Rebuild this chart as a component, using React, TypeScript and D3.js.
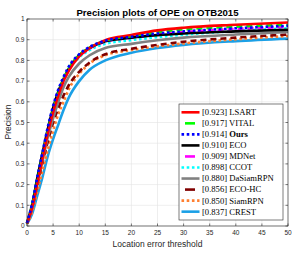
import React, { useEffect, useRef } from 'react';
import * as d3 from 'd3';

// thresholds where curve values were read
const thresholds = [0, 1, 2, 3, 4, 5, 6, 7, 8, 10, 12, 15, 20, 25, 30, 40, 50];

const lsart = [0.012, 0.09, 0.21, 0.33, 0.45, 0.55, 0.63, 0.70, 0.75, 0.82, 0.86, 0.898, 0.923, 0.945, 0.958, 0.972, 0.983];
const vital = [0.012, 0.10, 0.22, 0.34, 0.46, 0.56, 0.64, 0.71, 0.76, 0.825, 0.862, 0.895, 0.917, 0.937, 0.95, 0.963, 0.972];
const ours = [0.015, 0.11, 0.24, 0.36, 0.48, 0.58, 0.66, 0.72, 0.77, 0.83, 0.865, 0.895, 0.914, 0.93, 0.94, 0.955, 0.967];
const eco = [0.015, 0.105, 0.235, 0.355, 0.47, 0.57, 0.65, 0.71, 0.76, 0.825, 0.86, 0.892, 0.910, 0.922, 0.93, 0.94, 0.948];
const mdnet = [0.012, 0.095, 0.22, 0.34, 0.455, 0.555, 0.635, 0.70, 0.755, 0.82, 0.857, 0.89, 0.909, 0.925, 0.937, 0.952, 0.962];
const ccot = [0.015, 0.105, 0.23, 0.35, 0.465, 0.565, 0.645, 0.705, 0.755, 0.815, 0.85, 0.88, 0.898, 0.912, 0.924, 0.942, 0.955];
const dasiam = [0.012, 0.09, 0.21, 0.32, 0.43, 0.52, 0.60, 0.67, 0.72, 0.785, 0.825, 0.86, 0.880, 0.897, 0.91, 0.925, 0.937];
const ecohc = [0.012, 0.09, 0.20, 0.31, 0.41, 0.50, 0.57, 0.63, 0.68, 0.745, 0.79, 0.83, 0.856, 0.875, 0.89, 0.91, 0.925];
const siamrpn = [0.01, 0.07, 0.17, 0.27, 0.37, 0.46, 0.54, 0.60, 0.66, 0.735, 0.785, 0.825, 0.850, 0.868, 0.882, 0.902, 0.918];
const crest = [0.01, 0.06, 0.15, 0.24, 0.34, 0.42, 0.49, 0.56, 0.62, 0.70, 0.755, 0.80, 0.837, 0.86, 0.875, 0.893, 0.905];

const names = ['LSART', 'VITAL', 'Ours', 'ECO', 'MDNet', 'CCOT', 'DaSiamRPN', 'ECO-HC', 'SiamRPN', 'CREST'];
const scores = ['0.923', '0.917', '0.914', '0.910', '0.909', '0.898', '0.880', '0.856', '0.850', '0.837'];
const values = [lsart, vital, ours, eco, mdnet, ccot, dasiam, ecohc, siamrpn, crest];
const colors = ['#ff0000', '#00ff00', '#0000ff', '#000000', '#ff00ff', '#00ffff', '#808080', '#800000', '#ff7f30', '#1ba0e6'];
const dashes = ['', '6 4', '2.6 2.6', '', '6 4', '2.6 2.6', '', '6 4', '2.6 2.6', ''];

const xTicks = d3.range(0, 51, 5);
const yTicks = d3.range(0, 1.01, 0.1);

const App = () => {
    const svgRef = useRef<SVGSVGElement>(null);

    useEffect(() => {
        const svg = d3.select(svgRef.current);
        svg.selectAll('*').remove();

        const x = d3.scaleLinear().domain([0, 50]).range([27, 288]);
        const y = d3.scaleLinear().domain([0, 1]).range([226, 19]);

        const g = svg.append('g');

        // grid
        g.selectAll('.vg').data(xTicks).join('line')
            .attr('x1', d => x(d)).attr('x2', d => x(d))
            .attr('y1', y(0)).attr('y2', y(1))
            .attr('stroke', '#e3e3e3').attr('stroke-width', 0.6);
        g.selectAll('.hg').data(yTicks).join('line')
            .attr('y1', d => y(d)).attr('y2', d => y(d))
            .attr('x1', x(0)).attr('x2', x(50))
            .attr('stroke', '#e3e3e3').attr('stroke-width', 0.6);

        // curves
        const line = d3.line<number>()
            .x((_, i) => x(thresholds[i]))
            .y(d => y(d))
            .curve(d3.curveMonotoneX);

        const order = [9, 8, 7, 6, 5, 4, 3, 1, 0, 2];
        order.forEach(k => {
            g.append('path')
                .attr('d', line(values[k]))
                .attr('fill', 'none')
                .attr('stroke', colors[k])
                .attr('stroke-width', 2.6)
                .attr('stroke-dasharray', dashes[k] || null);
        });

        // axes box and ticks
        g.append('rect')
            .attr('x', x(0)).attr('y', y(1))
            .attr('width', x(50) - x(0)).attr('height', y(0) - y(1))
            .attr('fill', 'none').attr('stroke', '#262626').attr('stroke-width', 0.6);
        g.selectAll('.xt').data(xTicks).join('line')
            .attr('x1', d => x(d)).attr('x2', d => x(d))
            .attr('y1', y(0)).attr('y2', y(0) - 2.5)
            .attr('stroke', '#262626').attr('stroke-width', 0.6);
        g.selectAll('.xt2').data(xTicks).join('line')
            .attr('x1', d => x(d)).attr('x2', d => x(d))
            .attr('y1', y(1)).attr('y2', y(1) + 2.5)
            .attr('stroke', '#262626').attr('stroke-width', 0.6);
        g.selectAll('.yt').data(yTicks).join('line')
            .attr('y1', d => y(d)).attr('y2', d => y(d))
            .attr('x1', x(0)).attr('x2', x(0) + 2.5)
            .attr('stroke', '#262626').attr('stroke-width', 0.6);
        g.selectAll('.yt2').data(yTicks).join('line')
            .attr('y1', d => y(d)).attr('y2', d => y(d))
            .attr('x1', x(50)).attr('x2', x(50) - 2.5)
            .attr('stroke', '#262626').attr('stroke-width', 0.6);

        const font = 'Liberation Sans, Arial, sans-serif';
        g.selectAll('.xl').data(xTicks).join('text')
            .attr('x', d => x(d)).attr('y', 235)
            .attr('text-anchor', 'middle')
            .attr('font-family', font).attr('font-size', 6.5).attr('fill', '#262626')
            .text(d => String(d));
        g.selectAll('.yl').data(yTicks).join('text')
            .attr('x', 24.5).attr('y', d => y(d) + 2.3)
            .attr('text-anchor', 'end')
            .attr('font-family', font).attr('font-size', 6.5).attr('fill', '#262626')
            .text(d => d3.format('~g')(+d.toFixed(1)));

        g.append('text')
            .attr('x', 157.5).attr('y', 15.5)
            .attr('text-anchor', 'middle')
            .attr('font-family', font).attr('font-size', 9.6).attr('font-weight', 'bold')
            .text('Precision plots of OPE on OTB2015');
        g.append('text')
            .attr('x', 157.5).attr('y', 247)
            .attr('text-anchor', 'middle')
            .attr('font-family', font).attr('font-size', 8.5).attr('fill', '#262626')
            .text('Location error threshold');
        g.append('text')
            .attr('transform', 'translate(11,122) rotate(-90)')
            .attr('text-anchor', 'middle')
            .attr('font-family', font).attr('font-size', 8.5).attr('fill', '#262626')
            .text('Precision');

        // legend
        const lg = g.append('g');
        lg.append('rect')
            .attr('x', 179).attr('y', 104).attr('width', 104).attr('height', 116)
            .attr('fill', '#ffffff').attr('stroke', '#262626').attr('stroke-width', 0.6);
        names.forEach((n, i) => {
            const cy = 112.3 + i * 11.04;
            const dashed = dashes[i] === '6 4';
            lg.append('line')
                .attr('x1', dashed ? 185 : 181.5).attr('x2', dashed ? 195 : 199.5)
                .attr('y1', cy).attr('y2', cy)
                .attr('stroke', colors[i]).attr('stroke-width', 2.6)
                .attr('stroke-dasharray', dashed ? null : (dashes[i] || null));
            const t = lg.append('text')
                .attr('x', 202).attr('y', cy + 2.9)
                .attr('font-family', 'Liberation Serif, Times New Roman, serif')
                .attr('font-size', 8.6).attr('fill', '#000');
            t.append('tspan').text(`[${scores[i]}] `);
            t.append('tspan').attr('font-weight', n === 'Ours' ? 'bold' : null).text(n);
        });
    }, []);

    return (
        <svg ref={svgRef} width={296} height={254}
            style={{ position: 'absolute', left: 0, top: 0, background: '#fff' }}></svg>
    );
};

export default App;
